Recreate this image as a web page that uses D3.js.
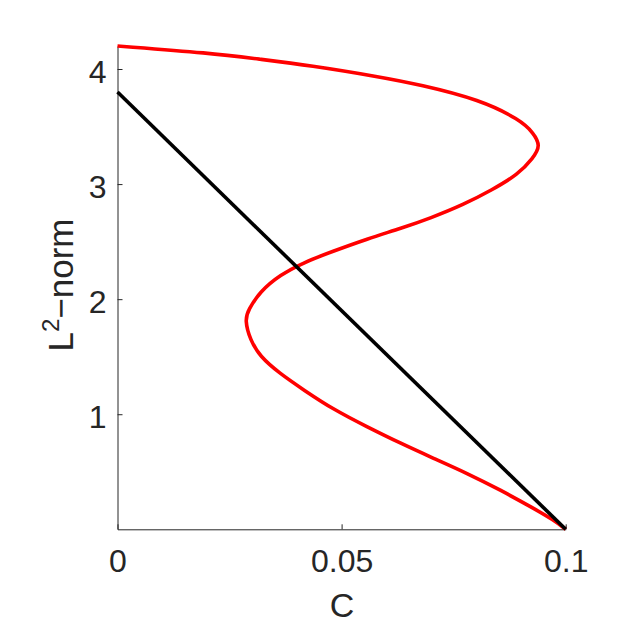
<!DOCTYPE html>
<html>
<head>
<meta charset="utf-8">
<script src="https://cdn.jsdelivr.net/npm/d3@7"></script>
<style>
html,body{margin:0;padding:0;background:#fff;}
text{font-family:"Liberation Sans",Arial,Helvetica,sans-serif;fill:#262626;}
</style>
</head>
<body>
<svg id="chart" width="625" height="625"></svg>
<script>
// Red curve (bifurcation branch): C values and L2-norm values, ordered along the curve
const redC = [0, 0.0207, 0.0318, 0.0430, 0.0579, 0.0675, 0.0809, 0.0898, 0.0928, 0.0944,
  0.0928, 0.0893, 0.0836, 0.0772, 0.0698, 0.0634, 0.0557, 0.0479, 0.0415, 0.0363,
  0.0318, 0.0292, 0.0284, 0.0296, 0.0318, 0.0361, 0.0415, 0.0483, 0.0556, 0.0631,
  0.0705, 0.0780, 0.0854, 0.0928, 0.0973, 0.1];
const redL = [4.20, 4.139, 4.085, 4.031, 3.936, 3.864, 3.733, 3.559, 3.446, 3.333,
  3.229, 3.081, 2.951, 2.821, 2.704, 2.617, 2.524, 2.414, 2.318, 2.211,
  2.066, 1.907, 1.820, 1.646, 1.501, 1.357, 1.212, 1.038, 0.892, 0.748,
  0.617, 0.487, 0.342, 0.183, 0.081, 0];
// Black straight branch
const blackC = [0, 0.1];
const blackL = [3.8, 0];
// Ticks
const xTicks = [0, 0.05, 0.1];
const xTickLabels = ["0", "0.05", "0.1"];
const yTicks = [1, 2, 3, 4];
const yTickLabels = ["1", "2", "3", "4"];

const svg = d3.select("#chart");
const x = d3.scaleLinear().domain([0, 0.1]).range([117.5, 565.7]);
const y = d3.scaleLinear().domain([0, 4.2]).range([529.3, 46]);

const axisColor = "#262626";
const fs = 32;
const ff = '"Liberation Sans",Arial,Helvetica,sans-serif';

// axes
const xAxis = d3.axisBottom(x).tickValues(xTicks).tickSizeInner(-5).tickSizeOuter(0)
  .tickFormat((d, i) => xTickLabels[i]).tickPadding(0);
const gx = svg.append("g").attr("transform", `translate(0,${y(0)})`).call(xAxis);
gx.select(".domain").attr("stroke", axisColor).attr("stroke-width", 1);
gx.selectAll(".tick line").attr("stroke", axisColor);
gx.selectAll(".tick text").attr("font-size", fs).attr("y", 42.5).attr("dy", 0)
  .attr("fill", axisColor).style("font-family", ff);

const yAxis = d3.axisLeft(y).tickValues(yTicks).tickSizeInner(-5).tickSizeOuter(0)
  .tickFormat((d, i) => yTickLabels[i]).tickPadding(0);
const gy = svg.append("g").attr("transform", `translate(${x(0)},0)`).call(yAxis);
gy.select(".domain").attr("stroke", axisColor).attr("stroke-width", 1);
gy.selectAll(".tick line").attr("stroke", axisColor);
gy.selectAll(".tick text").attr("font-size", fs).attr("x", -11).attr("dy", 13)
  .attr("fill", axisColor).style("font-family", ff);

// lines
const line = d3.line().x(d => x(d[0])).y(d => y(d[1])).curve(d3.curveBasis);
const redPts = redC.map((c, i) => [c, redL[i]]);
svg.append("path").datum(redPts).attr("d", line)
  .attr("fill", "none").attr("stroke", "#ff0000").attr("stroke-width", 3.6)
  .attr("stroke-linejoin", "round");
const blackPts = blackC.map((c, i) => [c, blackL[i]]);
svg.append("path").datum(blackPts).attr("d", d3.line().x(d => x(d[0])).y(d => y(d[1])))
  .attr("fill", "none").attr("stroke", "#000000").attr("stroke-width", 3.6);

// axis labels
svg.append("text").attr("x", 342).attr("y", 617).attr("text-anchor", "middle")
  .attr("font-size", 34).text("C");
const yl = svg.append("text").attr("transform", "translate(73,285) rotate(-90)")
  .attr("text-anchor", "middle").attr("font-size", 35);
yl.append("tspan").text("L");
yl.append("tspan").attr("dy", -14).attr("font-size", 24).text("2");
yl.append("tspan").attr("dy", 14).text("\u2212norm");
</script>
</body>
</html>
